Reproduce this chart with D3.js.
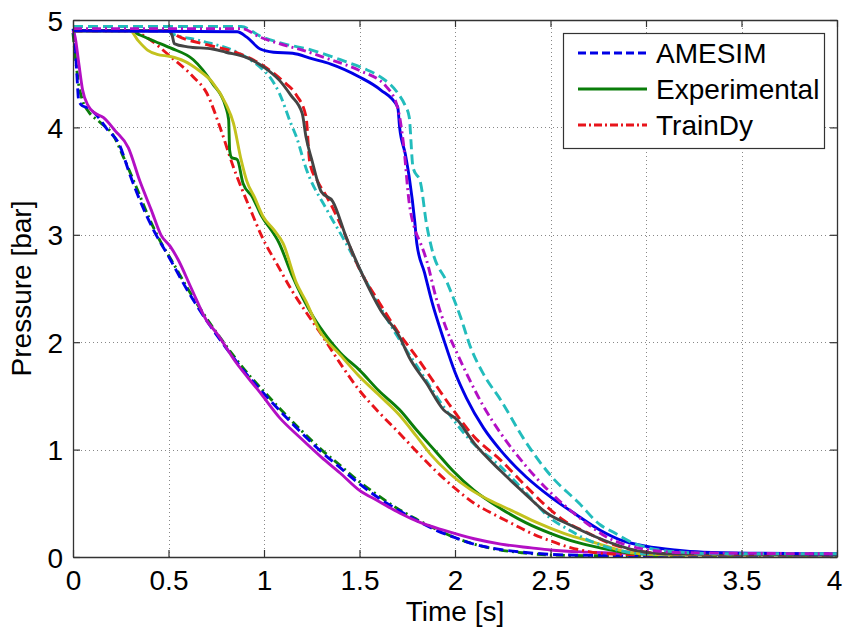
<!DOCTYPE html>
<html>
<head>
<meta charset="utf-8">
<script src="https://cdn.jsdelivr.net/npm/d3@7"></script>
<style>
  body { margin: 0; background: #fff; }
  text { font-family: "Liberation Sans", Arial, sans-serif; fill: #000; }
</style>
</head>
<body>
<svg id="chart" width="843" height="630"></svg>
<script>
// axis ticks
const xTicks = [0, 0.5, 1, 1.5, 2, 2.5, 3, 3.5, 4];
const yTicks = [0, 1, 2, 3, 4, 5];

// legend entries
const legendLabels = ['AMESIM', 'Experimental', 'TrainDy'];

// series values, [time s, pressure bar]
// group 1 (fast drop)
const magSolid1 = [[0,4.9],[0.01,4.85],[0.03,4.6],[0.05,4.35],[0.08,4.2],[0.11,4.14],[0.16,4.09],[0.22,3.97],[0.29,3.81],[0.35,3.5],[0.41,3.23],[0.46,3.0],[0.51,2.89],[0.55,2.77],[0.62,2.5],[0.7,2.2],[0.75,2.09],[0.85,1.82],[0.98,1.53],[1.08,1.3],[1.19,1.11],[1.3,0.93],[1.4,0.78],[1.5,0.62],[1.6,0.52],[1.71,0.41],[1.82,0.32],[1.94,0.25],[2.1,0.17],[2.24,0.12],[2.4,0.085],[2.5,0.065],[2.7,0.045],[3.0,0.03],[3.5,0.02],[4,0.02]];
const blueDash1 = [[0,4.92],[0.01,4.8],[0.02,4.5],[0.03,4.25],[0.05,4.2],[0.08,4.18],[0.12,4.12],[0.18,3.98],[0.24,3.85],[0.3,3.55],[0.36,3.28],[0.42,3.05],[0.5,2.8],[0.6,2.48],[0.7,2.2],[0.8,1.95],[0.9,1.72],[1.0,1.52],[1.1,1.33],[1.2,1.15],[1.3,0.98],[1.4,0.83],[1.5,0.68],[1.6,0.55],[1.7,0.44],[1.8,0.34],[1.9,0.25],[2.0,0.18],[2.1,0.12],[2.2,0.08],[2.35,0.045],[2.5,0.025],[2.7,0.015],[3,0.01],[4,0.01]];
const greenDashDot1 = [[0,4.88],[0.01,4.7],[0.03,4.4],[0.05,4.25],[0.08,4.15],[0.14,4.05],[0.21,3.93],[0.27,3.7],[0.33,3.45],[0.4,3.15],[0.46,2.93],[0.52,2.75],[0.6,2.5],[0.7,2.22],[0.8,1.97],[0.9,1.74],[1.0,1.54],[1.1,1.35],[1.2,1.17],[1.3,1.0],[1.4,0.85],[1.5,0.7],[1.6,0.57],[1.7,0.45],[1.8,0.35],[1.9,0.26],[2.0,0.18],[2.1,0.12],[2.22,0.07],[2.35,0.04],[2.48,0.02],[2.7,0.012],[3,0.01],[4,0.01]];

// group 2
const redDashDot2 = [[0,4.9],[0.3,4.9],[0.4,4.82],[0.51,4.66],[0.63,4.47],[0.7,4.32],[0.77,4.0],[0.84,3.63],[0.93,3.23],[0.99,2.98],[1.07,2.72],[1.15,2.47],[1.22,2.28],[1.29,2.1],[1.4,1.8],[1.5,1.55],[1.6,1.35],[1.71,1.15],[1.8,0.98],[1.9,0.8],[2.0,0.64],[2.1,0.5],[2.2,0.4],[2.3,0.31],[2.4,0.22],[2.5,0.15],[2.6,0.09],[2.7,0.05],[2.8,0.03],[3,0.02],[4,0.02]];
const greenSolid2 = [[0,4.9],[0.3,4.9],[0.35,4.86],[0.43,4.8],[0.51,4.74],[0.63,4.63],[0.73,4.41],[0.8,4.19],[0.815,4.07],[0.82,3.79],[0.83,3.72],[0.86,3.7],[0.89,3.48],[0.94,3.35],[0.98,3.2],[1.08,2.92],[1.15,2.61],[1.26,2.23],[1.33,2.05],[1.4,1.9],[1.5,1.74],[1.6,1.55],[1.71,1.37],[1.8,1.18],[1.9,0.98],[1.99,0.8],[2.1,0.62],[2.24,0.45],[2.37,0.32],[2.5,0.22],[2.63,0.14],[2.76,0.085],[2.9,0.04],[3.1,0.02],[4,0.02]];
const yellowSolid2 = [[0,4.9],[0.3,4.9],[0.34,4.81],[0.39,4.72],[0.44,4.68],[0.51,4.66],[0.58,4.62],[0.66,4.53],[0.73,4.42],[0.8,4.22],[0.84,4.04],[0.88,3.7],[0.91,3.5],[0.95,3.35],[0.995,3.17],[1.05,3.05],[1.1,2.92],[1.17,2.55],[1.22,2.38],[1.29,2.11],[1.4,1.88],[1.49,1.7],[1.6,1.51],[1.71,1.32],[1.8,1.12],[1.87,0.96],[1.97,0.78],[2.08,0.63],[2.19,0.52],[2.3,0.43],[2.43,0.32],[2.57,0.22],[2.74,0.13],[2.92,0.04],[3.1,0.02],[4,0.02]];

// group 3
const graySolid3 = [[0,4.9],[0.5,4.9],[0.52,4.85],[0.53,4.78],[0.6,4.75],[0.73,4.73],[0.8,4.7],[0.91,4.65],[1.0,4.56],[1.08,4.44],[1.14,4.3],[1.2,4.13],[1.22,3.91],[1.25,3.7],[1.3,3.4],[1.36,3.31],[1.43,2.98],[1.52,2.61],[1.61,2.3],[1.71,2.05],[1.76,1.86],[1.85,1.62],[1.94,1.37],[2.01,1.28],[2.1,1.06],[2.24,0.8],[2.36,0.6],[2.48,0.41],[2.6,0.3],[2.72,0.2],[2.85,0.11],[2.95,0.06],[3.1,0.03],[4,0.02]];
const redDash3 = [[0,4.9],[0.5,4.9],[0.55,4.85],[0.7,4.77],[0.85,4.7],[1.0,4.57],[1.1,4.43],[1.17,4.3],[1.22,4.1],[1.24,3.67],[1.28,3.5],[1.33,3.35],[1.4,3.1],[1.5,2.68],[1.6,2.38],[1.7,2.1],[1.8,1.86],[1.9,1.6],[1.97,1.42],[2.1,1.12],[2.24,0.9],[2.36,0.68],[2.48,0.47],[2.57,0.34],[2.7,0.22],[2.82,0.12],[2.95,0.06],[3.1,0.03],[4,0.02]];
const cyanDashDot3 = [[0,4.9],[0.5,4.9],[0.51,4.88],[0.66,4.81],[0.87,4.69],[0.98,4.56],[1.03,4.47],[1.08,4.32],[1.14,4.04],[1.17,3.91],[1.22,3.62],[1.33,3.23],[1.43,2.92],[1.54,2.55],[1.7,2.05],[1.8,1.78],[1.94,1.4],[2.1,1.05],[2.24,0.84],[2.37,0.6],[2.5,0.36],[2.6,0.25],[2.67,0.18],[2.75,0.12],[2.85,0.065],[3.0,0.03],[4,0.02]];

// group 4 (late drop)
const blueSolid4 = [[0,4.9],[0.86,4.89],[0.91,4.84],[0.98,4.73],[1.05,4.7],[1.15,4.69],[1.25,4.64],[1.35,4.59],[1.5,4.47],[1.61,4.35],[1.7,4.19],[1.71,4.0],[1.74,3.75],[1.76,3.54],[1.79,3.11],[1.8,2.92],[1.84,2.65],[1.88,2.37],[1.94,2.03],[2.0,1.72],[2.06,1.48],[2.15,1.2],[2.24,0.99],[2.37,0.75],[2.5,0.56],[2.63,0.4],[2.76,0.25],[2.88,0.15],[3.0,0.1],[3.15,0.065],[3.3,0.045],[3.6,0.035],[4,0.03]];
const magDashDot4 = [[0,4.92],[0.88,4.92],[0.98,4.84],[1.08,4.78],[1.2,4.72],[1.35,4.63],[1.5,4.53],[1.64,4.38],[1.7,4.18],[1.73,3.85],[1.76,3.3],[1.79,3.05],[1.82,2.92],[1.85,2.77],[1.9,2.42],[1.96,2.1],[2.01,1.9],[2.06,1.71],[2.15,1.4],[2.24,1.15],[2.37,0.85],[2.5,0.6],[2.6,0.44],[2.7,0.3],[2.8,0.18],[2.9,0.11],[3.0,0.07],[3.2,0.04],[4,0.03]];
const cyanDash4 = [[0,4.94],[0.88,4.94],[0.98,4.85],[1.1,4.78],[1.25,4.72],[1.4,4.63],[1.52,4.55],[1.61,4.47],[1.7,4.32],[1.74,4.2],[1.76,4.1],[1.78,3.63],[1.82,3.48],[1.85,3.11],[1.88,2.86],[1.96,2.55],[2.03,2.23],[2.08,1.96],[2.15,1.7],[2.24,1.46],[2.36,1.1],[2.5,0.76],[2.65,0.5],[2.76,0.3],[2.83,0.23],[2.92,0.14],[3.0,0.09],[3.15,0.05],[3.4,0.03],[4,0.03]];

const DASH = '10,5';
const DASHDOT = '9,4,2,4';

// draw order + style, kept apart from the values
const series = [
  { data: greenDashDot1, color: '#0a7d0a', dash: DASHDOT },
  { data: blueDash1, color: '#0000e6', dash: DASH },
  { data: magSolid1, color: '#b30fc4', dash: null },
  { data: redDashDot2, color: '#e8141b', dash: DASHDOT },
  { data: greenSolid2, color: '#0a7d0a', dash: null },
  { data: yellowSolid2, color: '#c3c21e', dash: null },
  { data: cyanDashDot3, color: '#22bcbc', dash: DASHDOT },
  { data: redDash3, color: '#e8141b', dash: DASH },
  { data: graySolid3, color: '#444444', dash: null },
  { data: blueSolid4, color: '#0000e6', dash: null },
  { data: cyanDash4, color: '#22bcbc', dash: DASH },
  { data: magDashDot4, color: '#b30fc4', dash: DASHDOT },
];

const legendStyles = [
  { color: '#0000e6', dash: '8,4' },
  { color: '#0a7d0a', dash: null },
  { color: '#e8141b', dash: '8,3,2,3' },
];

const margin = { left: 73, right: 6, top: 20, bottom: 73 };
const W = 843, H = 630;
const svg = d3.select('#chart');

const x = d3.scaleLinear().domain([0, 4]).range([margin.left, W - margin.right]);
const y = d3.scaleLinear().domain([0, 5]).range([H - margin.bottom, margin.top]);

// dotted grid
const grid = svg.append('g').attr('class', 'grid')
  .attr('stroke', '#888').attr('stroke-width', 1).attr('stroke-dasharray', '1,3');
grid.selectAll('line.gx').data(xTicks.slice(1, -1)).join('line').attr('class', 'gx')
  .attr('x1', d => Math.round(x(d)) + 0.5).attr('x2', d => Math.round(x(d)) + 0.5)
  .attr('y1', y(5)).attr('y2', y(0));
grid.selectAll('line.gy').data(yTicks.slice(1, -1)).join('line').attr('class', 'gy')
  .attr('y1', d => Math.round(y(d)) + 0.5).attr('y2', d => Math.round(y(d)) + 0.5)
  .attr('x1', x(0)).attr('x2', x(4));

// curves
const line = d3.line().x(d => x(d[0])).y(d => y(d[1])).curve(d3.curveMonotoneX);
svg.append('g').selectAll('path').data(series).join('path')
  .attr('d', d => line(d.data))
  .attr('fill', 'none')
  .attr('stroke', d => d.color)
  .attr('stroke-width', 2.9)
  .attr('stroke-linejoin', 'round')
  .attr('stroke-dasharray', d => d.dash);

// axes (inward ticks on all four sides, like MATLAB)
const fontSize = 28;
const xAxis = d3.axisBottom(x).tickValues(xTicks).tickSizeInner(-7).tickSizeOuter(0).tickPadding(13)
  .tickFormat(d3.format('~g'));
const yAxis = d3.axisLeft(y).tickValues(yTicks).tickSizeInner(-7).tickSizeOuter(0).tickPadding(10)
  .tickFormat(d3.format('d'));

const gx = svg.append('g').attr('transform', `translate(0,${y(0)})`).call(xAxis);
const gy = svg.append('g').attr('transform', `translate(${x(0)},0)`).call(yAxis);
const gxTop = svg.append('g').attr('transform', `translate(0,${y(5)})`)
  .call(d3.axisTop(x).tickValues(xTicks).tickSizeInner(-7).tickSizeOuter(0).tickFormat(''));
const gyRight = svg.append('g').attr('transform', `translate(${x(4)},0)`)
  .call(d3.axisRight(y).tickValues(yTicks).tickSizeInner(-7).tickSizeOuter(0).tickFormat(''));

[gx, gy, gxTop, gyRight].forEach(g => {
  g.select('.domain').attr('stroke', '#333').attr('stroke-width', 1.3);
  g.selectAll('.tick line').attr('stroke', '#333').attr('stroke-width', 1.2);
  g.selectAll('.tick text').attr('font-size', fontSize).attr('fill', '#000')
    .attr('font-family', '"Liberation Sans", Arial, sans-serif');
});
gx.selectAll('.tick text').attr('dy', '0.71em');
// last label sits against the right edge of the figure
gx.selectAll('.tick text').filter(d => d === 4).attr('dx', -3);
gy.selectAll('.tick text').attr('dy', '0.36em');

// axis titles
svg.append('text').attr('x', (x(0) + x(4)) / 2).attr('y', 621)
  .attr('text-anchor', 'middle').attr('font-size', fontSize).text('Time [s]');
svg.append('text')
  .attr('transform', `translate(31,${(y(0) + y(5)) / 2}) rotate(-90)`)
  .attr('text-anchor', 'middle').attr('font-size', fontSize).text('Pressure [bar]');

// legend
const leg = svg.append('g').attr('transform', 'translate(563,33)');
leg.append('rect').attr('x', 0.5).attr('y', 0.5).attr('width', 261).attr('height', 115)
  .attr('fill', '#fff').attr('stroke', '#333').attr('stroke-width', 1.2);
const items = leg.selectAll('g.item').data(legendLabels).join('g').attr('class', 'item')
  .attr('transform', (d, i) => `translate(0,${20 + i * 36})`);
items.append('line').attr('x1', 15).attr('x2', 84).attr('y1', 0).attr('y2', 0)
  .attr('stroke', (d, i) => legendStyles[i].color)
  .attr('stroke-dasharray', (d, i) => legendStyles[i].dash)
  .attr('stroke-width', 3);
items.append('text').attr('x', 93).attr('y', 0).attr('dy', '0.36em')
  .attr('font-size', fontSize).text(d => d);
</script>
</body>
</html>
